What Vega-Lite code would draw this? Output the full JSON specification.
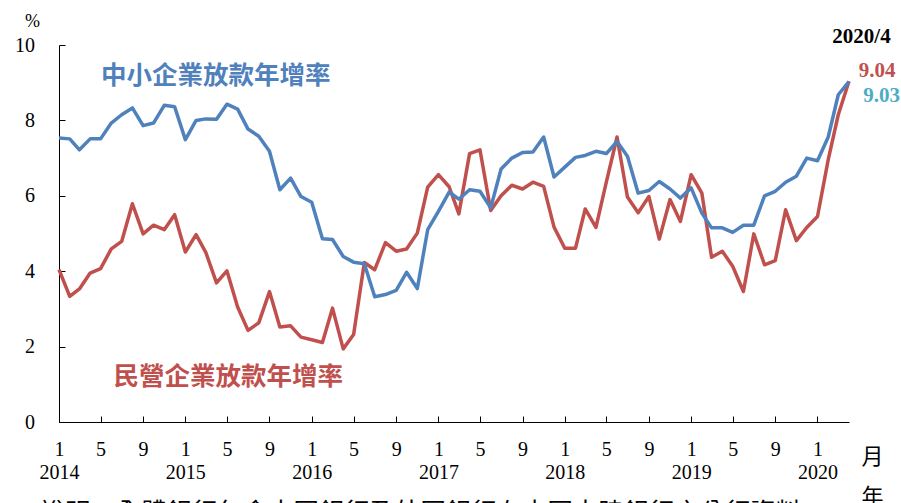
{
  "$schema": "https://vega.github.io/schema/vega-lite/v6.json",
  "autosize": {"type": "none"},
  "width": 790,
  "height": 377,
  "padding": {"left": 59, "top": 45, "right": 52, "bottom": 81},
  "background": "white",
  "config": {"view": {"stroke": null}, "axis": {"grid": false}},
  "datasets": {
    "loans": [
      {"date": "2014-01-01", "sme": 7.53, "private": 4.04},
      {"date": "2014-02-01", "sme": 7.51, "private": 3.33},
      {"date": "2014-03-01", "sme": 7.22, "private": 3.53},
      {"date": "2014-04-01", "sme": 7.51, "private": 3.95},
      {"date": "2014-05-01", "sme": 7.51, "private": 4.07},
      {"date": "2014-06-01", "sme": 7.93, "private": 4.59},
      {"date": "2014-07-01", "sme": 8.15, "private": 4.79},
      {"date": "2014-08-01", "sme": 8.33, "private": 5.79},
      {"date": "2014-09-01", "sme": 7.86, "private": 4.99},
      {"date": "2014-10-01", "sme": 7.93, "private": 5.22},
      {"date": "2014-11-01", "sme": 8.40, "private": 5.10},
      {"date": "2014-12-01", "sme": 8.36, "private": 5.50},
      {"date": "2015-01-01", "sme": 7.49, "private": 4.51},
      {"date": "2015-02-01", "sme": 8.00, "private": 4.97},
      {"date": "2015-03-01", "sme": 8.04, "private": 4.50},
      {"date": "2015-04-01", "sme": 8.03, "private": 3.69},
      {"date": "2015-05-01", "sme": 8.43, "private": 4.01},
      {"date": "2015-06-01", "sme": 8.30, "private": 3.05},
      {"date": "2015-07-01", "sme": 7.77, "private": 2.43},
      {"date": "2015-08-01", "sme": 7.58, "private": 2.63},
      {"date": "2015-09-01", "sme": 7.18, "private": 3.46},
      {"date": "2015-10-01", "sme": 6.16, "private": 2.52},
      {"date": "2015-11-01", "sme": 6.47, "private": 2.55},
      {"date": "2015-12-01", "sme": 5.98, "private": 2.25},
      {"date": "2016-01-01", "sme": 5.83, "private": 2.18},
      {"date": "2016-02-01", "sme": 4.86, "private": 2.11},
      {"date": "2016-03-01", "sme": 4.84, "private": 3.02},
      {"date": "2016-04-01", "sme": 4.39, "private": 1.94},
      {"date": "2016-05-01", "sme": 4.24, "private": 2.32},
      {"date": "2016-06-01", "sme": 4.20, "private": 4.23},
      {"date": "2016-07-01", "sme": 3.32, "private": 4.04},
      {"date": "2016-08-01", "sme": 3.38, "private": 4.76},
      {"date": "2016-09-01", "sme": 3.49, "private": 4.53},
      {"date": "2016-10-01", "sme": 3.97, "private": 4.59},
      {"date": "2016-11-01", "sme": 3.54, "private": 5.01},
      {"date": "2016-12-01", "sme": 5.10, "private": 6.23},
      {"date": "2017-01-01", "sme": 5.59, "private": 6.56},
      {"date": "2017-02-01", "sme": 6.10, "private": 6.24},
      {"date": "2017-03-01", "sme": 5.91, "private": 5.52},
      {"date": "2017-04-01", "sme": 6.16, "private": 7.12},
      {"date": "2017-05-01", "sme": 6.12, "private": 7.22},
      {"date": "2017-06-01", "sme": 5.68, "private": 5.61},
      {"date": "2017-07-01", "sme": 6.71, "private": 6.00},
      {"date": "2017-08-01", "sme": 7.00, "private": 6.28},
      {"date": "2017-09-01", "sme": 7.15, "private": 6.18},
      {"date": "2017-10-01", "sme": 7.16, "private": 6.36},
      {"date": "2017-11-01", "sme": 7.56, "private": 6.25},
      {"date": "2017-12-01", "sme": 6.50, "private": 5.17},
      {"date": "2018-01-01", "sme": 6.76, "private": 4.61},
      {"date": "2018-02-01", "sme": 7.02, "private": 4.61},
      {"date": "2018-03-01", "sme": 7.07, "private": 5.65},
      {"date": "2018-04-01", "sme": 7.18, "private": 5.16},
      {"date": "2018-05-01", "sme": 7.12, "private": 6.36},
      {"date": "2018-06-01", "sme": 7.44, "private": 7.56},
      {"date": "2018-07-01", "sme": 7.05, "private": 5.97},
      {"date": "2018-08-01", "sme": 6.07, "private": 5.55},
      {"date": "2018-09-01", "sme": 6.14, "private": 5.98},
      {"date": "2018-10-01", "sme": 6.38, "private": 4.85},
      {"date": "2018-11-01", "sme": 6.18, "private": 5.90},
      {"date": "2018-12-01", "sme": 5.94, "private": 5.32},
      {"date": "2019-01-01", "sme": 6.21, "private": 6.56},
      {"date": "2019-02-01", "sme": 5.54, "private": 6.07},
      {"date": "2019-03-01", "sme": 5.15, "private": 4.37},
      {"date": "2019-04-01", "sme": 5.15, "private": 4.53},
      {"date": "2019-05-01", "sme": 5.03, "private": 4.13},
      {"date": "2019-06-01", "sme": 5.22, "private": 3.46},
      {"date": "2019-07-01", "sme": 5.22, "private": 4.99},
      {"date": "2019-08-01", "sme": 6.00, "private": 4.17},
      {"date": "2019-09-01", "sme": 6.12, "private": 4.28},
      {"date": "2019-10-01", "sme": 6.36, "private": 5.63},
      {"date": "2019-11-01", "sme": 6.52, "private": 4.81},
      {"date": "2019-12-01", "sme": 7.00, "private": 5.16},
      {"date": "2020-01-01", "sme": 6.93, "private": 5.45},
      {"date": "2020-02-01", "sme": 7.56, "private": 6.96},
      {"date": "2020-03-01", "sme": 8.68, "private": 8.15},
      {"date": "2020-04-01", "sme": 9.03, "private": 9.04}
    ]
  },
  "layer": [
    {
      "data": {"name": "loans"},
      "transform": [
        {"fold": ["sme", "private"], "as": ["series", "value"]},
        {"filter": "datum.series == 'private'"}
      ],
      "mark": {"type": "line", "strokeWidth": 3.5, "strokeJoin": "round"},
      "encoding": {
        "x": {
          "field": "date", "type": "temporal",
          "scale": {"type": "utc", "nice": false, "domain": [{"year": 2014, "month": 1, "date": 1, "utc": true}, {"year": 2020, "month": 4, "date": 1, "utc": true}]},
          "axis": {
            "tickCount": {"interval": "month", "step": 4},
            "labelExpr": "utcmonth(datum.value) == 0 ? [toString(utcmonth(datum.value) + 1), toString(utcyear(datum.value))] : toString(utcmonth(datum.value) + 1)",
            "labelBaseline": "top",
            "labelAlign": "center",
            "labelLineHeight": 23,
            "labelFont": "Liberation Serif",
            "labelFontSize": 20,
            "labelColor": "black",
            "labelOverlap": false,
            "labelFlush": false,
            "labelPadding": 23.5,
            "tickSize": -6,
            "tickColor": "black",
            "domainColor": "black",
            "title": ["月", "年"],
            "titleX": 813,
            "titleY": 24,
            "titleAlign": "center",
            "titleBaseline": "top",
            "titleLineHeight": 40,
            "titleFont": "Noto Sans CJK TC",
            "titleFontSize": 22,
            "titleFontWeight": "normal",
            "titleColor": "black"
          }
        },
        "y": {
          "field": "value", "type": "quantitative",
          "scale": {"domain": [0, 10], "nice": false},
          "axis": {
            "values": [0, 2, 4, 6, 8, 10],
            "labelFont": "Liberation Serif",
            "labelFontSize": 20,
            "labelColor": "black",
            "labelPadding": 30.5,
            "tickSize": -6,
            "tickColor": "black",
            "domainColor": "black",
            "title": "%",
            "titleAngle": 0,
            "titleX": -27,
            "titleY": -24,
            "titleAlign": "center",
            "titleBaseline": "middle",
            "titleFont": "Liberation Serif",
            "titleFontSize": 18,
            "titleFontWeight": "normal",
            "titleColor": "black"
          }
        },
        "color": {"field": "series", "type": "nominal", "scale": {"domain": ["sme", "private"], "range": ["#4F81BD", "#C0504D"]}, "legend": null}
      }
    },
    {
      "data": {"name": "loans"},
      "transform": [
        {"fold": ["sme", "private"], "as": ["series", "value"]},
        {"filter": "datum.series == 'sme'"}
      ],
      "mark": {"type": "line", "strokeWidth": 3.5, "strokeJoin": "round"},
      "encoding": {
        "x": {"field": "date", "type": "temporal"},
        "y": {"field": "value", "type": "quantitative"},
        "color": {"field": "series", "type": "nominal", "legend": null}
      }
    },
    {
      "data": {"values": [{"label": "中小企業放款年增率"}]},
      "mark": {"type": "text", "font": "Noto Sans CJK TC", "fontWeight": "bold", "fontSize": 25.5, "color": "#4F81BD", "align": "center", "baseline": "middle"},
      "encoding": {
        "x": {"datum": {"year": 2015, "month": 3, "date": 30, "utc": true}, "type": "temporal"},
        "y": {"datum": 9.17, "type": "quantitative"},
        "text": {"field": "label"}
      }
    },
    {
      "data": {"values": [{"label": "民營企業放款年增率"}]},
      "mark": {"type": "text", "font": "Noto Sans CJK TC", "fontWeight": "bold", "fontSize": 25.5, "color": "#C0504D", "align": "center", "baseline": "middle"},
      "encoding": {
        "x": {"datum": {"year": 2015, "month": 5, "date": 5, "utc": true}, "type": "temporal"},
        "y": {"datum": 1.2, "type": "quantitative"},
        "text": {"field": "label"}
      }
    },
    {
      "data": {"values": [{"label": "2020/4"}]},
      "mark": {"type": "text", "font": "Liberation Serif", "fontWeight": "bold", "fontSize": 21, "color": "black", "align": "center", "baseline": "middle"},
      "encoding": {
        "x": {"datum": {"year": 2020, "month": 5, "date": 7, "utc": true}, "type": "temporal"},
        "y": {"datum": 10.21, "type": "quantitative"},
        "text": {"field": "label"}
      }
    },
    {
      "data": {"values": [{"label": "9.04"}]},
      "mark": {"type": "text", "font": "Liberation Serif", "fontWeight": "bold", "fontSize": 21, "color": "#C0504D", "align": "center", "baseline": "middle"},
      "encoding": {
        "x": {"datum": {"year": 2020, "month": 6, "date": 21, "utc": true}, "type": "temporal"},
        "y": {"datum": 9.32, "type": "quantitative"},
        "text": {"field": "label"}
      }
    },
    {
      "data": {"values": [{"label": "9.03"}]},
      "mark": {"type": "text", "font": "Liberation Serif", "fontWeight": "bold", "fontSize": 21, "color": "#4BACC6", "align": "center", "baseline": "middle"},
      "encoding": {
        "x": {"datum": {"year": 2020, "month": 7, "date": 4, "utc": true}, "type": "temporal"},
        "y": {"datum": 8.64, "type": "quantitative"},
        "text": {"field": "label"}
      }
    },
    {
      "data": {"values": [{"label": "說明：全體銀行包含中國銀行及外國銀行在中國大陸銀行之分行資料；"}]},
      "mark": {"type": "text", "font": "Noto Sans CJK TC", "fontSize": 25.4, "color": "black", "align": "left", "baseline": "top"},
      "encoding": {
        "x": {"datum": {"year": 2013, "month": 11, "date": 6, "utc": true}, "type": "temporal"},
        "y": {"datum": -2.1, "type": "quantitative"},
        "text": {"field": "label"}
      }
    }
  ]
}
